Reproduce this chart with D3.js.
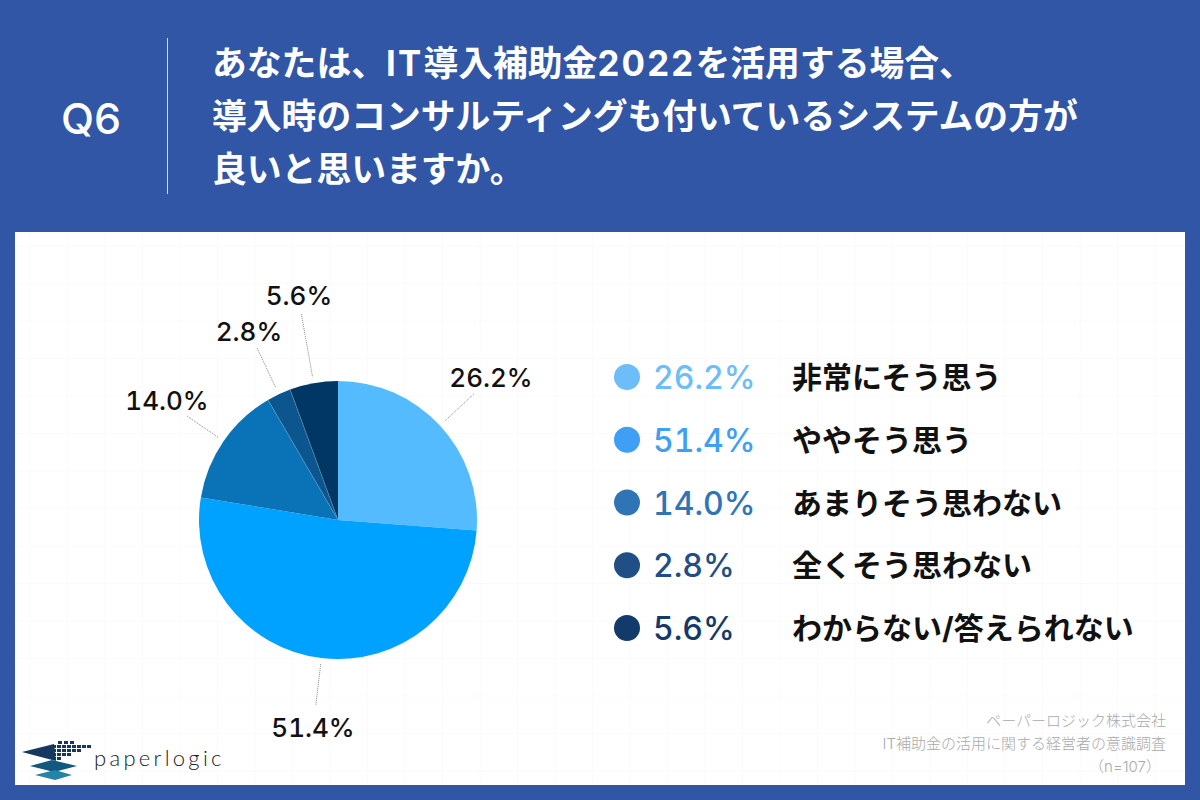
<!DOCTYPE html>
<html>
<head>
<meta charset="utf-8">
<style>
html,body{margin:0;padding:0;background:#3156a6;}
svg{display:block;}
text{font-family:"Inter","Noto Sans CJK JP",sans-serif;}
</style>
<script src="https://cdn.jsdelivr.net/npm/d3@7"></script>
</head>
<body>
<svg id="chart" width="1200" height="800"></svg>
<script>
// values
const categories = ["非常にそう思う", "ややそう思う", "あまりそう思わない", "全くそう思わない", "わからない/答えられない"];
const shares = [26.2, 51.4, 14.0, 2.8, 5.6];
const sliceColors = ["#55bbff", "#00a2ff", "#0a73b8", "#0b568f", "#003764"];
const legendColors = ["#6dbdf8", "#3e9ff5", "#2f74b5", "#1f4f85", "#123a6b"];
const titleLines = ["あなたは、IT導入補助金2022を活用する場合、", "導入時のコンサルティングも付いているシステムの方が", "良いと思いますか。"];
const noteLines = ["ペーパーロジック株式会社", "IT補助金の活用に関する経営者の意識調査", "（n=107）"];

const svg = d3.select("#chart");
const blue = "#3156a6";

svg.append("rect").attr("width", 1200).attr("height", 800).attr("fill", blue);

// header
svg.append("text").attr("x", 91).attr("y", 134)
    .attr("text-anchor", "middle").attr("fill", "#fff")
    .attr("font-size", 43).attr("font-weight", 500).text("Q6");
svg.append("line").attr("x1", 167.5).attr("x2", 167.5).attr("y1", 38).attr("y2", 194)
    .attr("stroke", "#d5dcec").attr("stroke-width", 1);
const titles = svg.append("g").selectAll("text").data(titleLines).join("text")
    .attr("x", 212).attr("y", (d, i) => 76 + i * 53)
    .attr("fill", "#fff").attr("font-size", 34.8).attr("font-weight", 700);
// latin runs are wider in the original lettering, so space them out a bit
titles.selectAll("tspan").data(d => d.split(/([A-Za-z0-9]+)/).filter(s => s != "")).join("tspan")
    .attr("letter-spacing", d => /^[A-Za-z0-9]/.test(d) ? 2.2 : 0)
    .text(d => d);

// white card with the faint grid
const card = svg.append("g");
card.append("rect").attr("x", 15).attr("y", 232).attr("width", 1170).attr("height", 553).attr("fill", "#fff");
const gridX = d3.range(30, 1185, 37.5);
const gridY = d3.range(246, 785, 37.5);
card.selectAll(".gx").data(gridX).join("line").attr("class", "gx")
    .attr("x1", d => d).attr("x2", d => d).attr("y1", 232).attr("y2", 785)
    .attr("stroke", "#f9fafb").attr("stroke-width", 1);
card.selectAll(".gy").data(gridY).join("line").attr("class", "gy")
    .attr("x1", 15).attr("x2", 1185).attr("y1", d => d).attr("y2", d => d)
    .attr("stroke", "#f9fafb").attr("stroke-width", 1);

// pie
const cx = 338, cy = 520, radius = 139;
const pie = d3.pie().sort(null).value(d => d);
const arcs = pie(shares);
const arc = d3.arc().innerRadius(0).outerRadius(radius);
const pieG = svg.append("g").attr("transform", `translate(${cx},${cy})`);
pieG.selectAll("path").data(arcs).join("path")
    .attr("d", arc)
    .attr("fill", (d, i) => sliceColors[i]);

const mid = d => (d.startAngle + d.endAngle) / 2;
const polar = (a, r) => [Math.sin(a) * r, -Math.cos(a) * r];

// thin light seams on the two small dark slices
pieG.selectAll(".seam").data(arcs.slice(3)).join("line").attr("class", "seam")
    .attr("x1", 0).attr("y1", 0)
    .attr("x2", d => polar(d.startAngle, radius)[0])
    .attr("y2", d => polar(d.startAngle, radius)[1])
    .attr("stroke", "#7fa6c6").attr("stroke-opacity", 0.6).attr("stroke-width", 0.7);

// leader lines and labels
const leaderStart = [146, 145, 146, 147, 146];
const leaderEnd = [186, 186, 184, 191, 209];
const labelX = [491, 313, 167, 249, 299];
const labelY = [387, 737, 410, 341, 305];
pieG.selectAll(".leader").data(arcs).join("line").attr("class", "leader")
    .attr("x1", (d, i) => polar(mid(d), leaderStart[i])[0])
    .attr("y1", (d, i) => polar(mid(d), leaderStart[i])[1])
    .attr("x2", (d, i) => polar(mid(d), leaderEnd[i])[0])
    .attr("y2", (d, i) => polar(mid(d), leaderEnd[i])[1])
    .attr("stroke", "#888").attr("stroke-width", 1).attr("stroke-dasharray", "1 1");
svg.append("g").selectAll("text").data(shares).join("text")
    .attr("x", (d, i) => labelX[i]).attr("y", (d, i) => labelY[i])
    .attr("text-anchor", "middle").attr("font-size", 26).attr("font-weight", 500)
    .attr("fill", "#111")
    .style("font-feature-settings", "'tnum'")
    .text(d => d.toFixed(1) + "%");

// legend
const y = d3.scalePoint().domain(categories).range([377, 628]);
const legend = svg.append("g").selectAll("g").data(categories).join("g")
    .attr("transform", d => `translate(0,${y(d)})`);
legend.append("circle").attr("cx", 627).attr("cy", 0).attr("r", 13)
    .attr("fill", (d, i) => legendColors[i]);
legend.append("text").attr("x", 653).attr("y", 12)
    .attr("font-size", 32).attr("font-weight", 500)
    .attr("fill", (d, i) => legendColors[i])
    .style("font-feature-settings", "'tnum'")
    .text((d, i) => shares[i].toFixed(1) + "%");
legend.append("text").attr("x", 792).attr("y", 11)
    .attr("font-size", 30).attr("font-weight", 700).attr("fill", "#111")
    .text(d => d);

// footnote
svg.append("g").selectAll("text").data(noteLines).join("text")
    .attr("x", (d, i) => i == 2 ? 1161 : 1166).attr("y", (d, i) => 726 + i * 23)
    .attr("text-anchor", "end").attr("font-size", 15).attr("font-weight", 300)
    .attr("fill", "#a9a9a9")
    .text(d => d);

// logo
const logo = svg.append("g").attr("transform", "translate(22,740)");
logo.append("path").attr("d", "M0,12 L32,4 L34,21 Z").attr("fill", "#16375f");
logo.append("path").attr("d", "M8,26 L30,20 L55,26 L32,32 Z").attr("fill", "#12587f");
logo.append("path").attr("d", "M13,35 L33,30 L50,35 L33,40 Z").attr("fill", "#2383a8");
const dotRows = [[38, 44, 50], [32, 37, 42, 47, 52, 57, 62, 67], [32, 37, 42, 47, 52, 57], [32, 37, 42, 47], [32, 37]];
const dotY = [1, 5, 9, 13, 17];
dotRows.forEach((row, r) => {
    logo.selectAll(null).data(row).join("rect")
        .attr("x", d => d - 2).attr("y", dotY[r])
        .attr("width", 4).attr("height", 3)
        .attr("fill", "#16375f");
});
svg.append("text").attr("x", 94).attr("y", 766)
    .style("font-family", "Lato, sans-serif")
    .attr("font-size", 22).attr("font-weight", 300).attr("letter-spacing", 3.3)
    .attr("fill", "#222").text("paperlogic");
</script>
</body>
</html>
